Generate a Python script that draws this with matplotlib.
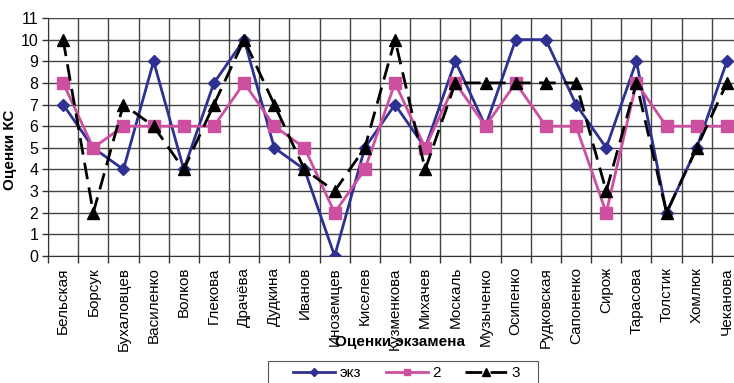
import matplotlib
matplotlib.use("Agg")
import matplotlib.pyplot as plt
from matplotlib.patches import Rectangle
import numpy as np

plt.rcParams['font.family'] = ['Liberation Sans', 'DejaVu Sans']

students = ["Бельская", "Борсук", "Бухаловцев", "Василенко", "Волков", "Глекова",
            "Драчёва", "Дудкина", "Иванов", "Иноземцев", "Киселев", "Кузменкова",
            "Михачев", "Москаль", "Музыченко", "Осипенко", "Рудковская", "Сапоненко",
            "Сирож", "Тарасова", "Толстик", "Хомлюк", "Чеканова"]
exam = [7, 5, 4, 9, 4, 8, 10, 5, 4, 0, 5, 7, 5, 9, 6, 10, 10, 7, 5, 9, 2, 5, 9]
s2 = [8, 5, 6, 6, 6, 6, 8, 6, 5, 2, 4, 8, 5, 8, 6, 8, 6, 6, 2, 8, 6, 6, 6]
s3 = [10, 2, 7, 6, 4, 7, 10, 7, 4, 3, 5, 10, 4, 8, 8, 8, 8, 8, 3, 8, 2, 5, 8]
yticks = list(range(0, 12))

fig = plt.figure(figsize=(7.34, 3.83), dpi=100)
ax = fig.add_axes([48/734, 1-256/383, 694/734, (256-18)/383])

x = np.arange(len(students)) + 0.5
ax.plot(x, exam, color='#2E3192', lw=2, marker='D', ms=6.5, label='экз', zorder=3)
ax.plot(x, s2, color='#CC4FA0', lw=2, marker='s', ms=8, label='2', zorder=4)
ax.plot(x, s3, color='black', lw=2, marker='^', ms=8.5, ls=(0, (6, 3)), label='3', zorder=5)

ax.set_xlim(0, len(students))
ax.set_ylim(0, 11)
ax.set_xticks(np.arange(0, len(students) + 1))
ax.set_xticklabels([])
ax.set_xticks(x, minor=True)
ax.set_xticklabels(students, minor=True, rotation=90, fontsize=11)
ax.tick_params(axis='x', which='minor', length=0, pad=8)
ax.tick_params(axis='x', which='major', length=5, width=1, color='#333333')
ax.set_yticks(yticks)
ax.set_yticklabels([str(v) for v in yticks], fontsize=11.5)
ax.tick_params(axis='y', length=4, width=1, color='#333333', pad=3)

ax.grid(True, which='major', color='#444444', lw=1)
for side in ['top', 'right']:
    ax.spines[side].set_visible(False)
ax.spines['left'].set_color('#333333')
ax.spines['bottom'].set_color('#333333')

ax.set_ylabel('Оценки КС', fontsize=11, fontweight='bold')
ax.yaxis.set_label_coords(-0.045, 0.445)
fig.text(400/734, 1-342/383, 'Оценки экзамена', fontsize=11, fontweight='bold',
         ha='center', va='center')

leg = fig.legend(loc='center left', bbox_to_anchor=(293/734, 1-373/383), ncol=3,
                 frameon=False, fontsize=11, markerscale=0.6,
                 handlelength=2.75, columnspacing=1.6, borderpad=0, borderaxespad=0,
                 handletextpad=0.3)
fig.patches.append(Rectangle((268/734, -0.05), (538-268)/734, 0.05 + 1-361/383,
                             transform=fig.transFigure, fill=False,
                             edgecolor='#555555', lw=0.8))

fig.savefig('out.png', dpi=100)
